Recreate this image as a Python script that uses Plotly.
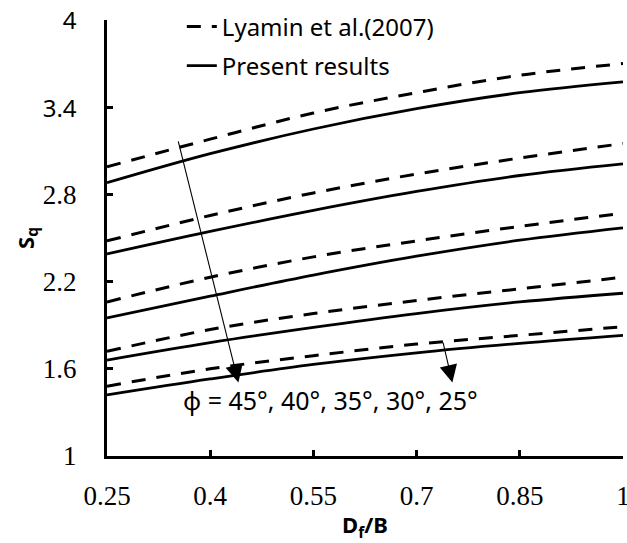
import plotly.graph_objects as go

# Depth ratio D_f/B
df_b = [0.25, 0.40, 0.55, 0.70, 0.85, 1.00]

# Shape factor S_q, Lyamin et al. (2007)
lyamin_45 = [2.99, 3.18, 3.36, 3.50, 3.62, 3.70]
lyamin_40 = [2.48, 2.655, 2.81, 2.94, 3.05, 3.15]
lyamin_35 = [2.06, 2.23, 2.37, 2.48, 2.58, 2.67]
lyamin_30 = [1.72, 1.87, 1.98, 2.07, 2.15, 2.23]
lyamin_25 = [1.48, 1.60, 1.69, 1.77, 1.83, 1.89]

# Shape factor S_q, present results
present_45 = [2.88, 3.08, 3.25, 3.39, 3.50, 3.575]
present_40 = [2.39, 2.545, 2.69, 2.82, 2.93, 3.01]
present_35 = [1.95, 2.10, 2.245, 2.375, 2.485, 2.57]
present_30 = [1.66, 1.78, 1.885, 1.98, 2.06, 2.12]
present_25 = [1.42, 1.53, 1.63, 1.71, 1.775, 1.83]

lyamin_sets = [lyamin_45, lyamin_40, lyamin_35, lyamin_30, lyamin_25]
present_sets = [present_45, present_40, present_35, present_30, present_25]

x_ticks = [0.25, 0.4, 0.55, 0.7, 0.85, 1]
x_ticktext = ["0.25", "0.4", "0.55", "0.7", "0.85", "1"]
y_ticks = [1, 1.6, 2.2, 2.8, 3.4, 4]

SANS = "Noto Sans"
SERIF = "Liberation Serif, Times New Roman, serif"

y_ticktext = [
    "1", "1.6", "2.2", "2.8",
    f"<span style='font-family:{SANS}; font-size:24px'>3.4</span>",
    f"<span style='font-family:{SANS}; font-size:24px'>4</span>",
]

fig = go.Figure()

for i, ys in enumerate(lyamin_sets):
    fig.add_trace(go.Scatter(
        x=df_b, y=ys, mode="lines", line_shape="spline",
        line=dict(color="black", width=3, dash="14px,11px"),
        name="Lyamin et al.(2007)", legendgroup="lyamin",
        showlegend=(i == 0),
    ))

for i, ys in enumerate(present_sets):
    fig.add_trace(go.Scatter(
        x=df_b, y=ys, mode="lines", line_shape="spline",
        line=dict(color="black", width=2.8),
        name="Present results", legendgroup="present",
        showlegend=(i == 0),
    ))

# Arrows showing the order of friction angles
arrows = [
    dict(tail=(0.353, 3.175), head=(0.441, 1.505)),
    dict(tail=(0.738, 1.791), head=(0.752, 1.505)),
]
for a in arrows:
    fig.add_annotation(
        x=a["head"][0], y=a["head"][1], ax=a["tail"][0], ay=a["tail"][1],
        xref="x", yref="y", axref="x", ayref="y",
        text="", showarrow=True, arrowhead=2, arrowsize=3.2,
        arrowwidth=1.1, arrowcolor="black", standoff=0,
    )

fig.add_annotation(
    x=0.575, y=1.382, xref="x", yref="y",
    text="\u03d5 = 45°, 40°, 35°, 30°, 25°", showarrow=False,
    font=dict(family=SANS, size=25, color="black"),
)

axis_common = dict(
    showline=True, linecolor="black", linewidth=3,
    ticks="inside", ticklen=6, tickwidth=2.5, tickcolor="black",
    showgrid=False, zeroline=False, ticklabeloverflow="allow",
    automargin=False,
    tickfont=dict(family=SERIF, size=27, color="black"),
)

fig.update_xaxes(
    range=[0.25, 1], tickvals=x_ticks, ticktext=x_ticktext,
    ticklabelstandoff=14,
    title=dict(text="<b>D<sub>f</sub>/B</b>", standoff=8,
               font=dict(family=SANS, size=22, color="black")),
    **axis_common,
)
fig.update_yaxes(
    range=[1, 4], tickvals=y_ticks, ticktext=y_ticktext,
    ticklabelstandoff=22,
    title=dict(text="<b>S<sub>q</sub></b>", standoff=3,
               font=dict(family=SANS, size=22, color="black")),
    **axis_common,
)

fig.update_layout(
    width=627, height=543,
    margin=dict(l=107, r=4, t=16, b=87),
    paper_bgcolor="white", plot_bgcolor="white",
    showlegend=True,
    legend=dict(
        x=0.145, y=1.036, xanchor="left", yanchor="top",
        font=dict(family=SANS, size=24, color="black"),
        bgcolor="rgba(0,0,0,0)", tracegroupgap=5,
    ),
)

fig.write_html("out.html")
